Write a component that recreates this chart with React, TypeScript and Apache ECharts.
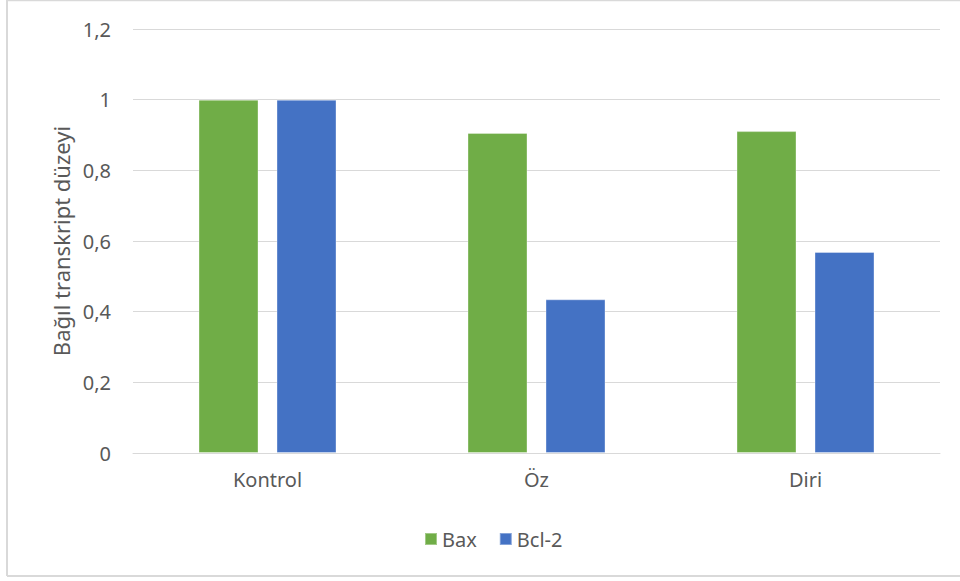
import React, { useEffect, useRef } from "react";
import * as echarts from "echarts";

const categories = ["Kontrol", "Öz", "Diri"];
const baxValues = [1, 0.906, 0.911];
const bcl2Values = [1, 0.435, 0.569];
const seriesNames = ["Bax", "Bcl-2"];
const yAxisTitle = "Bağıl transkript düzeyi";

const FONT = "'Noto Sans', 'Open Sans', sans-serif";
const TEXT = "#595959";
const GRID = "#d9d9d9";

export default function App() {
  const ref = useRef<HTMLDivElement>(null);
  useEffect(() => {
    document.body.style.margin = "0";
    const chart = echarts.init(ref.current!, null, { renderer: "svg" });
    chart.setOption({
      animation: false,
      backgroundColor: "#ffffff",
      textStyle: { fontFamily: FONT },
      grid: { left: 133, right: 20, top: 29, bottom: 128 },
      legend: {
        data: seriesNames,
        left: 419,
        top: 524,
        itemWidth: 12,
        itemHeight: 12,
        itemGap: 22,
        icon: "rect",
        textStyle: { color: TEXT, fontSize: 20, fontFamily: FONT },
      },
      xAxis: {
        type: "category",
        data: categories,
        axisTick: { show: false },
        axisLine: { lineStyle: { color: GRID, width: 1 } },
        axisLabel: { color: TEXT, fontSize: 20, margin: 16, fontFamily: FONT },
      },
      yAxis: {
        type: "value",
        min: 0,
        max: 1.2,
        interval: 0.2,
        name: yAxisTitle,
        nameLocation: "middle",
        nameGap: 60,
        nameTextStyle: { color: TEXT, fontSize: 22, fontFamily: FONT },
        axisLine: { show: false },
        axisTick: { show: false },
        splitLine: { lineStyle: { color: GRID, width: 1 } },
        axisLabel: {
          color: TEXT,
          fontSize: 20,
          margin: 22,
          fontFamily: FONT,
          formatter: (v: number) => String(Math.round(v * 10) / 10).replace(".", ","),
        },
      },
      series: [
        {
          name: seriesNames[0],
          type: "bar",
          data: baxValues,
          barWidth: 60,
          barGap: "30%",
          itemStyle: { color: "#70ad47", borderColor: "rgba(255,255,255,0.35)", borderWidth: 1 },
        },
        {
          name: seriesNames[1],
          type: "bar",
          data: bcl2Values,
          barWidth: 60,
          barGap: "30%",
          itemStyle: { color: "#4472c4", borderColor: "rgba(255,255,255,0.35)", borderWidth: 1 },
        },
      ],
      graphic: [
        { type: "line", shape: { x1: 7, y1: 0.5, x2: 960, y2: 0.5 }, style: { stroke: GRID, lineWidth: 1.5 }, silent: true },
        { type: "line", shape: { x1: 7, y1: 0, x2: 7, y2: 576 }, style: { stroke: GRID, lineWidth: 2 }, silent: true },
        { type: "line", shape: { x1: 7, y1: 576, x2: 960, y2: 576 }, style: { stroke: GRID, lineWidth: 2 }, silent: true },
      ],
    });
    return () => chart.dispose();
  }, []);
  return <div ref={ref} style={{ width: 960, height: 581 }} />;
}
